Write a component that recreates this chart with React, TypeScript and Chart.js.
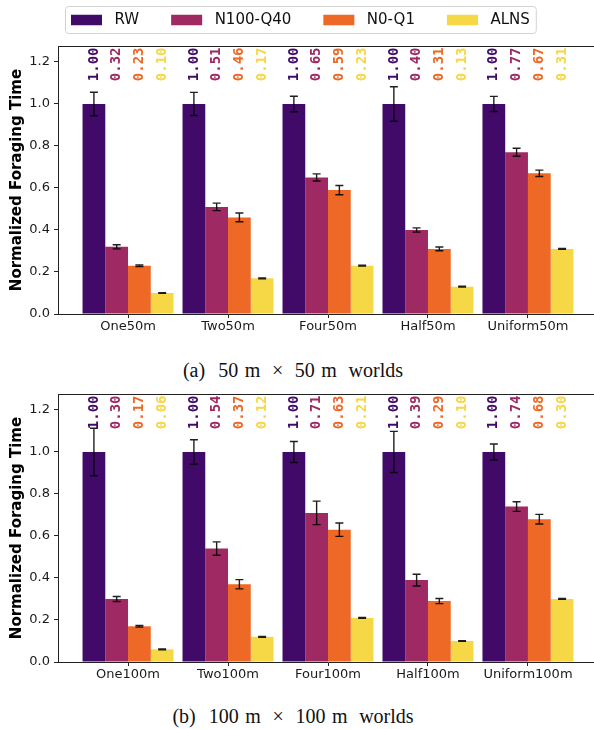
import React, { useEffect, useRef } from "react";
import { Chart, registerables } from "chart.js";

Chart.register(...registerables);

// ---------- data ----------
const seriesLabels = ["RW", "N100-Q40", "N0-Q1", "ALNS"];
const seriesColors = ["#420a68", "#9f2a63", "#ed6925", "#f6d746"];
const yTickValues = [0, 0.2, 0.4, 0.6, 0.8, 1.0, 1.2];
const yAxisTitle = "Normalized Foraging Time";

const categories50 = ["One50m", "Two50m", "Four50m", "Half50m", "Uniform50m"];
const rw50 = [1.0, 1.0, 1.0, 1.0, 1.0];
const n100q40_50 = [0.32, 0.51, 0.65, 0.4, 0.77];
const n0q1_50 = [0.23, 0.46, 0.59, 0.31, 0.67];
const alns50 = [0.1, 0.17, 0.23, 0.13, 0.31];
const rwErr50 = [0.056, 0.055, 0.037, 0.082, 0.036];
const n100q40Err50 = [0.01, 0.018, 0.017, 0.01, 0.019];
const n0q1Err50 = [0.004, 0.021, 0.022, 0.009, 0.015];
const alnsErr50 = [0.002, 0.002, 0.002, 0.002, 0.002];

const categories100 = ["One100m", "Two100m", "Four100m", "Half100m", "Uniform100m"];
const rw100 = [1.0, 1.0, 1.0, 1.0, 1.0];
const n100q40_100 = [0.3, 0.54, 0.71, 0.39, 0.74];
const n0q1_100 = [0.17, 0.37, 0.63, 0.29, 0.68];
const alns100 = [0.06, 0.12, 0.21, 0.1, 0.3];
const rwErr100 = [0.113, 0.058, 0.05, 0.098, 0.038];
const n100q40Err100 = [0.012, 0.032, 0.056, 0.028, 0.023];
const n0q1Err100 = [0.004, 0.022, 0.032, 0.012, 0.023];
const alnsErr100 = [0.002, 0.002, 0.002, 0.002, 0.002];

const captionA = ["(a)", "50", "m", "×", "50", "m", "worlds"];
const captionB = ["(b)", "100", "m", "×", "100", "m", "worlds"];

// ---------- plugins ----------
const spinePlugin = {
  id: "topSpine",
  afterDraw(chart: any) {
    const { ctx, chartArea } = chart;
    ctx.save();
    ctx.strokeStyle = "#222";
    ctx.lineWidth = 1;
    const y = Math.round(chartArea.top) + 0.5;
    ctx.beginPath();
    ctx.moveTo(chartArea.left, y);
    ctx.lineTo(chartArea.right, y);
    ctx.moveTo(Math.round(chartArea.right) + 0.5, chartArea.top);
    ctx.lineTo(Math.round(chartArea.right) + 0.5, chartArea.bottom);
    ctx.stroke();
    ctx.restore();
  },
};

const errorBarPlugin = {
  id: "errorBars",
  afterDatasetsDraw(chart: any) {
    const { ctx } = chart;
    const yScale = chart.scales.y;
    ctx.save();
    ctx.strokeStyle = "rgba(0,0,0,0.88)";
    ctx.lineWidth = 1.4;
    chart.data.datasets.forEach((ds: any, i: number) => {
      const meta = chart.getDatasetMeta(i);
      meta.data.forEach((bar: any, j: number) => {
        const v = ds.data[j].y;
        const e = ds.errors[j];
        const x = bar.x;
        const yt = yScale.getPixelForValue(v + e);
        const yb = yScale.getPixelForValue(v - e);
        const cap = 4;
        ctx.beginPath();
        ctx.moveTo(x, yt);
        ctx.lineTo(x, yb);
        ctx.moveTo(x - cap, yt);
        ctx.lineTo(x + cap, yt);
        ctx.moveTo(x - cap, yb);
        ctx.lineTo(x + cap, yb);
        ctx.stroke();
      });
    });
    ctx.restore();
  },
};

const valueLabelPlugin = {
  id: "valueLabels",
  afterDraw(chart: any) {
    const { ctx, chartArea } = chart;
    chart.data.datasets.forEach((ds: any, i: number) => {
      const meta = chart.getDatasetMeta(i);
      meta.data.forEach((bar: any, j: number) => {
        const v = ds.data[j].y;
        ctx.save();
        ctx.font = 'bold 14px "DejaVu Sans Mono", monospace';
        ctx.fillStyle = ds.backgroundColor;
        ctx.textAlign = "left";
        ctx.textBaseline = "middle";
        const text = v.toFixed(2);
        const w = ctx.measureText(text).width;
        ctx.translate(bar.x, chartArea.top + 1.5 + w);
        ctx.rotate(-Math.PI / 2);
        ctx.fillText(text, 0, 0);
        ctx.restore();
      });
    });
  },
};

const boxLegendPlugin = {
  id: "boxLegend",
  afterDraw(chart: any, _args: any, opts: any) {
    if (!opts || !opts.show) return;
    const { ctx } = chart;
    ctx.save();
    ctx.font = '15px "DejaVu Sans", sans-serif';
    const left = 65;
    const top = 6;
    const height = 27;
    const pad = 6;
    const patchW = 31;
    const patchH = 10.5;
    const gapText = 12.5;
    const gapItem = 32;
    const items = chart.data.datasets.map((ds: any) => ({
      label: ds.label,
      color: ds.backgroundColor,
      w: ctx.measureText(ds.label).width,
    }));
    let total = pad * 2;
    items.forEach((it: any, k: number) => {
      total += patchW + gapText + it.w + (k < items.length - 1 ? gapItem : 0);
    });
    ctx.fillStyle = "rgba(255,255,255,0.85)";
    ctx.strokeStyle = "#d3d3d3";
    ctx.lineWidth = 1;
    ctx.beginPath();
    (ctx as any).roundRect(left + 0.5, top + 0.5, total, height, 3);
    ctx.fill();
    ctx.stroke();
    let x = left + pad;
    const cy = top + height / 2 + 0.5;
    ctx.textAlign = "left";
    ctx.textBaseline = "middle";
    items.forEach((it: any) => {
      ctx.fillStyle = it.color;
      ctx.fillRect(x, cy - patchH / 2, patchW, patchH);
      x += patchW + gapText;
      ctx.fillStyle = "#111";
      ctx.fillText(it.label, x, cy + 0.5);
      x += it.w + gapItem;
    });
    ctx.restore();
  },
};

function buildConfig(
  categories: string[],
  series: number[][],
  errors: number[][],
  showLegend: boolean,
  padTop: number,
  xAxisHeight: number
): any {
  return {
    type: "bar",
    data: {
      datasets: series.map((vals, i) => ({
        label: seriesLabels[i],
        data: vals.map((v, j) => ({ x: j, y: v })),
        errors: errors[i],
        backgroundColor: seriesColors[i],
        borderWidth: 0,
        categoryPercentage: 0.91,
        barPercentage: 1.0,
      })),
    },
    options: {
      animation: false,
      responsive: false,
      devicePixelRatio: 1,
      layout: { padding: { top: padTop, right: 22, left: 0, bottom: 0 } },
      plugins: {
        legend: { display: false },
        tooltip: { enabled: false },
        boxLegend: { show: showLegend },
      },
      scales: {
        x: {
          type: "linear",
          min: -0.7005,
          max: 4.7005,
          offset: false,
          afterBuildTicks: (scale: any) => {
            scale.ticks = categories.map((_, i) => ({ value: i }));
          },
          afterFit: (scale: any) => {
            scale.height = xAxisHeight;
          },
          ticks: {
            callback: (v: any) => categories[Math.round(v)] ?? "",
            font: { size: 13, family: "DejaVu Sans" },
            color: "#1a1a1a",
            padding: 1,
            maxRotation: 0,
            autoSkip: false,
          },
          grid: {
            offset: false,
            drawOnChartArea: false,
            drawTicks: true,
            tickLength: 4,
            color: "#222",
          },
          border: { display: true, color: "#222", width: 1 },
        },
        y: {
          type: "linear",
          min: 0,
          max: 1.276,
          afterBuildTicks: (scale: any) => {
            scale.ticks = yTickValues.map((v) => ({ value: v }));
          },
          afterFit: (scale: any) => {
            scale.width = 58;
          },
          ticks: {
            callback: (v: any) => Number(v).toFixed(1),
            font: { size: 13, family: "DejaVu Sans" },
            color: "#1a1a1a",
            padding: 4,
          },
          grid: {
            drawOnChartArea: false,
            drawTicks: true,
            tickLength: 4,
            color: "#222",
          },
          border: { display: true, color: "#222", width: 1 },
          title: {
            display: true,
            text: yAxisTitle,
            font: { size: 15, weight: "bold", family: "DejaVu Sans" },
            color: "#000",
            padding: { top: 8, bottom: 0 },
          },
        },
      },
    },
    plugins: [spinePlugin, errorBarPlugin, valueLabelPlugin, boxLegendPlugin],
  };
}

function BarChart(props: {
  categories: string[];
  series: number[][];
  errors: number[][];
  showLegend: boolean;
  padTop: number;
  xAxisHeight: number;
  top: number;
  height: number;
}) {
  const ref = useRef<HTMLCanvasElement | null>(null);
  useEffect(() => {
    if (!ref.current) return;
    const chart = new Chart(
      ref.current,
      buildConfig(props.categories, props.series, props.errors, props.showLegend, props.padTop, props.xAxisHeight)
    );
    return () => chart.destroy();
  }, []);
  return (
    <canvas
      ref={ref}
      width={620}
      height={props.height}
      style={{ position: "absolute", left: 0, top: props.top, width: 620, height: props.height }}
    />
  );
}

const gaps = [13, 6.5, 11.7, 11.7, 6.5, 11.7];

function Caption(props: { tokens: string[]; top: number }) {
  return (
    <div
      style={{
        position: "absolute",
        left: 0,
        width: 586,
        top: props.top,
        height: 20,
        display: "flex",
        justifyContent: "center",
        fontFamily: "'Liberation Serif', 'DejaVu Serif', serif",
        fontSize: 20,
        lineHeight: "20px",
        color: "#111",
        whiteSpace: "nowrap",
      }}
    >
      {props.tokens.map((t, i) => (
        <span key={i} style={{ marginLeft: i === 0 ? 0 : gaps[i - 1] }}>
          {t}
        </span>
      ))}
    </div>
  );
}

export default function App() {
  useEffect(() => {
    document.body.style.margin = "0";
  }, []);
  return (
    <div
      style={{
        position: "absolute",
        left: 0,
        top: 0,
        width: 594,
        height: 729,
        overflow: "hidden",
        background: "#fff",
      }}
    >
      <BarChart
        categories={categories50}
        series={[rw50, n100q40_50, n0q1_50, alns50]}
        errors={[rwErr50, n100q40Err50, n0q1Err50, alnsErr50]}
        showLegend={true}
        padTop={46}
        xAxisHeight={31}
        top={0}
        height={345}
      />
      <Caption tokens={captionA} top={360} />
      <BarChart
        categories={categories100}
        series={[rw100, n100q40_100, n0q1_100, alns100]}
        errors={[rwErr100, n100q40Err100, n0q1Err100, alnsErr100]}
        showLegend={false}
        padTop={34}
        xAxisHeight={28}
        top={360}
        height={330}
      />
      <Caption tokens={captionB} top={706} />
    </div>
  );
}
